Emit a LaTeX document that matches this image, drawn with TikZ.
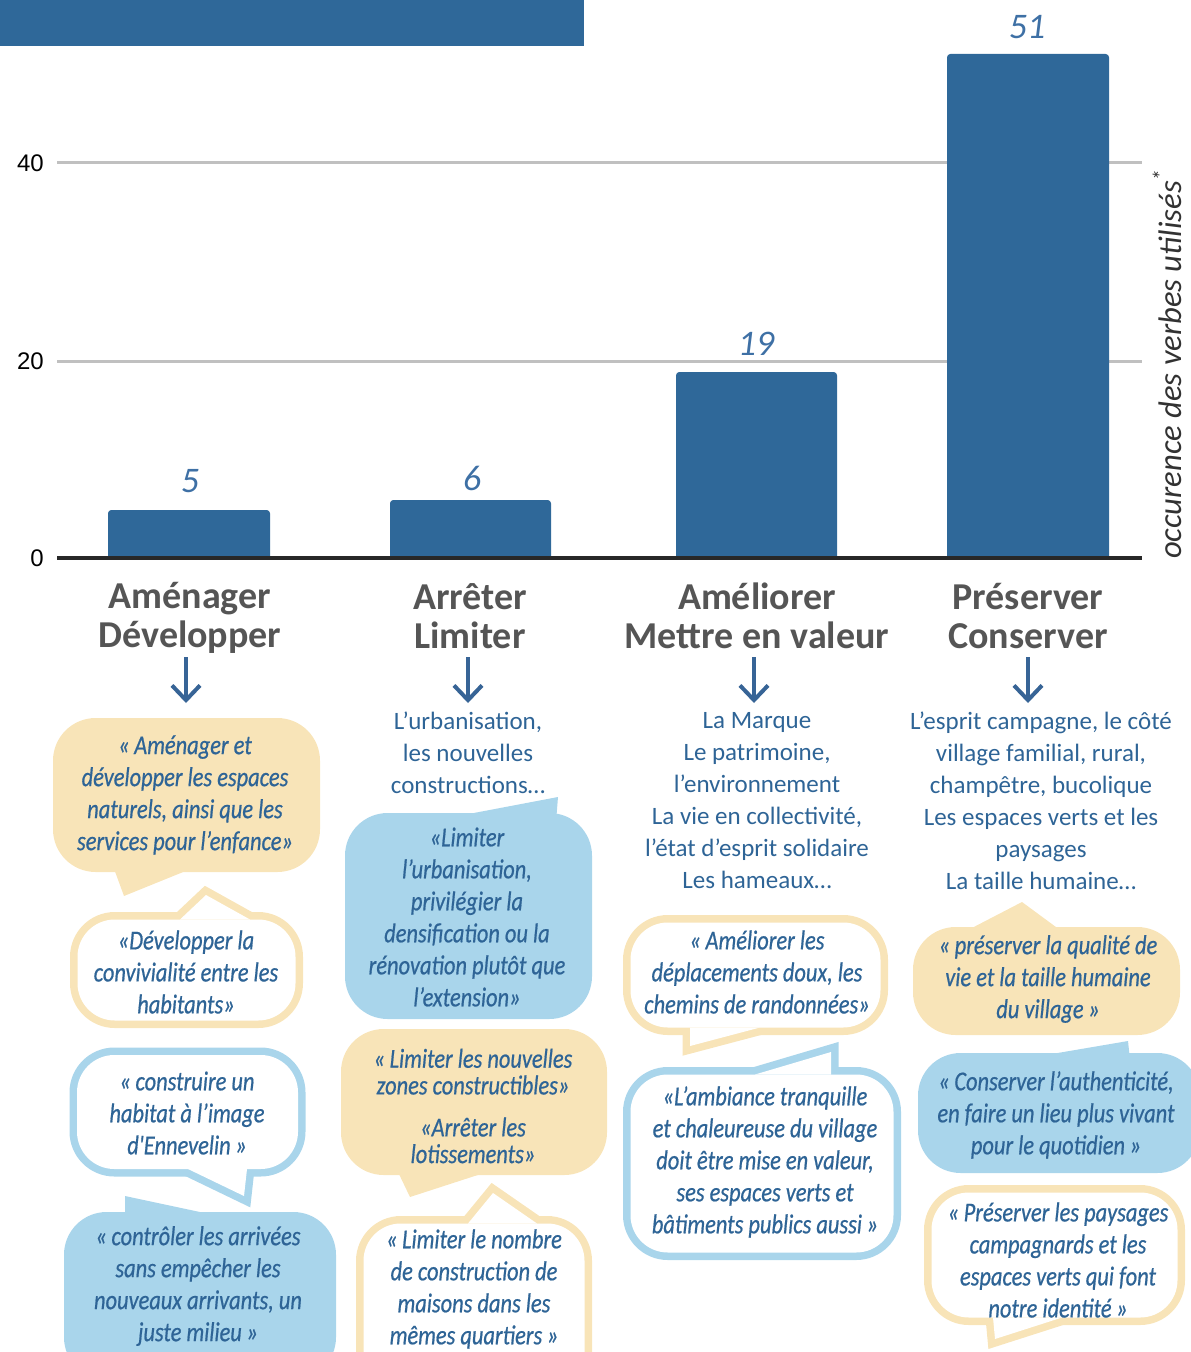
\documentclass[tikz,border=0pt]{standalone}
\usepackage{fontspec}
\setmainfont{Carlito}
\newfontfamily\bubfont[FakeStretch=0.82,FakeBold=0.6]{Carlito}
\newfontfamily\axfont{Liberation Sans}
\usetikzlibrary{arrows.meta}
\definecolor{barblue}{RGB}{47,104,153}
\definecolor{txtblue}{RGB}{46,100,150}
\definecolor{valblue}{RGB}{62,112,165}
\definecolor{arrblue}{RGB}{55,100,150}
\definecolor{byellow}{RGB}{248,228,184}
\definecolor{bblue}{RGB}{169,213,235}
\definecolor{headgray}{RGB}{85,85,85}
\definecolor{gridgray}{RGB}{192,192,192}
\definecolor{basedark}{RGB}{40,40,40}
\definecolor{titlegray}{RGB}{50,50,50}
\tikzset{
  bubtext/.style={align=center, text=txtblue, inner sep=0pt, font=\bubfont\itshape\fontsize{20.5}{24}\selectfont},
  listtext/.style={align=center, text=txtblue, inner sep=0pt, font=\fontsize{18.75}{24}\selectfont},
  headtext/.style={align=center, text=headgray, inner sep=0pt, font=\bfseries\fontsize{28.5}{29.5}\selectfont},
  valtext/.style={text=valblue, inner sep=0pt, font=\itshape\fontsize{27}{30}\selectfont},
  axtext/.style={inner sep=0pt, anchor=east, font=\axfont\fontsize{18}{20}\selectfont},
  gridline/.style={draw=gridgray, line width=2.25pt},
  bar/.style={fill=barblue},
  arr/.style={draw=arrblue, line width=3pt, -{Straight Barb[length=11pt,width=21pt]}},
  rc/.style={rounded corners=28pt},
  yfill/.style={fill=byellow, rounded corners=32pt},
  bfill/.style={fill=bblue, rounded corners=32pt},
  yborder/.style={draw=byellow, line width=11.25pt, line join=miter},
  bborder/.style={draw=bblue, line width=11.25pt, line join=miter},
  inner/.style={fill=white},
  tailfill/.style={line join=miter},
}
\begin{document}
\begin{tikzpicture}[x=0.75pt,y=-0.75pt]
\useasboundingbox (0,0) rectangle (1191,1352);
\clip (0,0) rectangle (1191,1352);
% banner
\fill[barblue] (0,0) rectangle (584,46);
% grid
\draw[gridline] (57,163) -- (1142,163);
\draw[gridline] (57,361) -- (1142,361);
\node[axtext] (ax40) at (44,163) {40};
\node[axtext] (ax20) at (44,361) {20};
\node[axtext] (ax0) at (44,558) {0};
% bars
\fill[bar] (108,558) [rounded corners=2.5pt] -- (108,510) -- (270,510) [sharp corners] -- (270,558) -- cycle;
\fill[bar] (390,558) [rounded corners=2.5pt] -- (390,500) -- (551,500) [sharp corners] -- (551,558) -- cycle;
\fill[bar] (676,558) [rounded corners=2.5pt] -- (676,372) -- (837,372) [sharp corners] -- (837,558) -- cycle;
\fill[bar] (947,558) [rounded corners=2.5pt] -- (947,54) -- (1109,54) [sharp corners] -- (1109,558) -- cycle;
\draw[draw=basedark, line width=2.6pt] (57,558) -- (1142,558);
% values
\node[valtext] (v1) at (190,481) {5};
\node[valtext] (v2) at (472,478) {6};
\node[valtext] (v3) at (756,344) {19};
\node[valtext] (v4) at (1027,27) {51};
% y title
\node[rotate=90, inner sep=0pt, text=titlegray, font=\itshape\fontsize{24.5}{26}\selectfont] (ytitle) at (1167,364) {occurence des verbes utilisés\textsuperscript{*}};
% headings
\node[headtext] (h1) at (190,618) {Aménager\\Développer};
\node[headtext] (h2) at (470,616) {Arrêter\\Limiter};
\node[headtext] (h3) at (757,616) {Améliorer\\Mettre en valeur};
\node[headtext] (h4) at (1028,616) {Préserver\\Conserver};
% arrows
\coordinate (a1s) at (186,657); \coordinate (a1e) at (186,703);
\coordinate (a2s) at (468,657); \coordinate (a2e) at (468,703);
\coordinate (a3s) at (754,657); \coordinate (a3e) at (754,703);
\coordinate (a4s) at (1028,657); \coordinate (a4e) at (1028,703);
\draw[arr] (a1s) -- (a1e);
\draw[arr] (a2s) -- (a2e);
\draw[arr] (a3s) -- (a3e);
\draw[arr] (a4s) -- (a4e);
% lists
\node[listtext] (l2) at (468,753) {L’urbanisation,\\les nouvelles\\constructions…};
\node[listtext] (l3) at (757,801) {La Marque\\Le patrimoine,\\l’environnement\\La vie en collectivité,\\l’état d’esprit solidaire\\Les hameaux…};
\node[listtext] (l4) at (1041,801) {L’esprit campagne, le côté\\village familial, rural,\\champêtre, bucolique\\Les espaces verts et les\\paysages\\La taille humaine…};

% ---------- bubbles ----------
% B1 yellow filled
\fill[yfill] (53,718) rectangle (320,872);
\fill[byellow, tailfill] (113,866) -- (124,896) -- (198,866) -- cycle;
% B2 white yellow border
\draw[yborder, rc] (77.5,919.5) rectangle (295.5,1020.5);
\draw[yborder] (180,919.5) -- (206,895) -- (250,919.5) -- cycle;
\fill[inner, rc] (77.5,919.5) rectangle (295.5,1020.5);
\fill[white, tailfill] (180,919.5) -- (206,895) -- (250,919.5) -- cycle;
% B3 white blue border
\draw[bborder, rc] (77,1055) rectangle (298,1169);
\draw[bborder] (188,1169) -- (244,1196) -- (247,1169) -- cycle;
\fill[inner, rc] (77,1055) rectangle (298,1169);
\fill[white, tailfill] (188,1169) -- (244,1196) -- (247,1169) -- cycle;
% B4 blue filled
\fill[bfill] (64,1212) rectangle (336,1380);
\fill[bblue, tailfill] (125,1215) -- (125,1196) -- (214,1215) -- cycle;
% B5 blue filled
\fill[bfill] (345,813) rectangle (592,1019);
\fill[bblue, tailfill] (458,816) -- (558,797) -- (556,822) -- cycle;
% B6 yellow filled
\fill[yfill] (341,1029) rectangle (607,1175);
\fill[byellow, tailfill] (398,1172) -- (410,1197) -- (487,1172) -- cycle;
% B7 white yellow border
\draw[yborder, rc] (363.5,1223.5) rectangle (584.5,1390);
\draw[yborder] (468,1223.5) -- (493,1193) -- (537,1223.5) -- cycle;
\fill[inner, rc] (363.5,1223.5) rectangle (584.5,1390);
\fill[white, tailfill] (468,1223.5) -- (493,1193) -- (537,1223.5) -- cycle;
% B8 white yellow border
\draw[yborder, rc] (630.5,922.5) rectangle (880.5,1027.5);
\draw[yborder] (690,1027.5) -- (690,1046) -- (760,1027.5) -- cycle;
\fill[inner, rc] (630.5,922.5) rectangle (880.5,1027.5);
\fill[white, tailfill] (690,1027.5) -- (690,1046) -- (760,1027.5) -- cycle;
% B9 white blue border
\draw[bborder, rc] (630.5,1074.5) rectangle (893.5,1252.5);
\draw[bborder] (755,1074.5) -- (831,1052) -- (831,1074.5) -- cycle;
\fill[inner, rc] (630.5,1074.5) rectangle (893.5,1252.5);
\fill[white, tailfill] (755,1074.5) -- (831,1052) -- (831,1074.5) -- cycle;
% B10 yellow filled
\fill[yfill] (913,927) rectangle (1180,1035);
\fill[byellow, tailfill] (968,930) -- (1022,902) -- (1060,930) -- cycle;
% B11 blue filled
\fill[bfill] (918,1053) rectangle (1200,1173);
\fill[bblue, tailfill] (1040,1056) -- (1128,1041) -- (1130,1060) -- cycle;
% B12 white yellow border
\draw[yborder, rc] (931.5,1192.5) rectangle (1177.5,1317.5);
\draw[yborder] (993,1317.5) -- (995,1339) -- (1062,1317.5) -- cycle;
\fill[inner, rc] (931.5,1192.5) rectangle (1177.5,1317.5);
\fill[white, tailfill] (993,1317.5) -- (995,1339) -- (1062,1317.5) -- cycle;

% ---------- bubble texts ----------
\node[bubtext] (t1) at (185,795) {«\,Aménager et\\développer les espaces\\naturels, ainsi que les\\services pour l’enfance»};
\node[bubtext] (t2) at (186,972) {«Développer la\\convivialité entre les\\habitants»};
\node[bubtext] (t3) at (187,1113) {«\,construire un\\habitat à l’image\\d'Ennevelin\,»};
\node[bubtext] (t4) at (198,1286) {«\,contrôler les arrivées\\sans empêcher les\\nouveaux arrivants, un\\juste milieu\,»};
\node[bubtext] (t5) at (467,917) {«Limiter\\l’urbanisation,\\privilégier la\\densification ou la\\rénovation plutôt que\\l’extension»};
\node[bubtext, font=\bubfont\itshape\fontsize{20.5}{20}\selectfont] (t6) at (473,1106) {«\,Limiter les nouvelles\\zones constructibles»\\[11.5pt]«Arrêter les\\lotissements»};
\node[bubtext] (t7) at (474,1289) {«\,Limiter le nombre\\de construction de\\maisons dans les\\mêmes quartiers\,»};
\node[bubtext] (t8) at (757,972) {«\,Améliorer les\\déplacements doux, les\\chemins de randonnées»};
\node[bubtext] (t9) at (765,1162) {«L’ambiance tranquille\\et chaleureuse du village\\doit être mise en valeur,\\ses espaces verts et\\bâtiments publics aussi\,»};
\node[bubtext] (t10) at (1048,979) {«\,préserver la qualité de\\vie et la taille humaine\\du village\,»};
\node[bubtext] (t11) at (1056,1115) {«\,Conserver l’authenticité,\\en faire un lieu plus vivant\\pour le quotidien\,»};
\node[bubtext] (t12) at (1058,1260) {«\,Préserver les paysages\\campagnards et les\\espaces verts qui font\\notre identité\,»};
\end{tikzpicture}
\end{document}
